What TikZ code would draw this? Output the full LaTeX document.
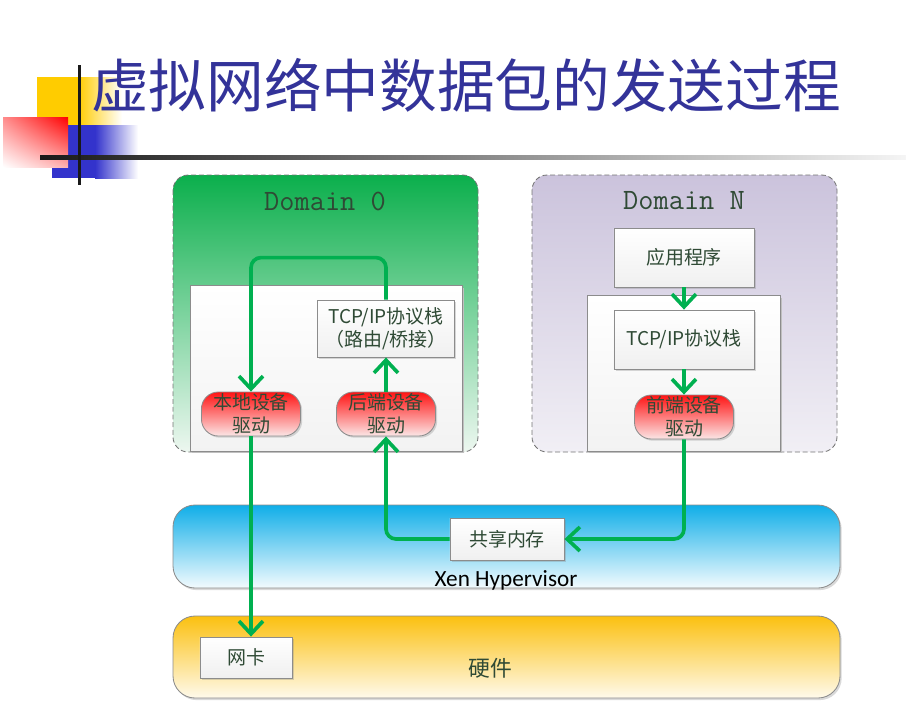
\documentclass[tikz,border=0pt]{standalone}
\usepackage{fontspec}
\newfontfamily\cjk{Noto Sans CJK SC}
\newfontfamily\calib{Carlito}
\usetikzlibrary{positioning,arrows.meta,calc,shadows,shadings}

\definecolor{titleblue}{HTML}{333399}
\definecolor{deckyellow}{HTML}{FFCC00}
\definecolor{deckblue}{HTML}{3333CC}
\definecolor{deckpink}{HTML}{FF8C8C}
\definecolor{deckpinkpale}{HTML}{FFB0B0}
\definecolor{flowgreen}{HTML}{00B050}
\definecolor{txtgreen}{HTML}{2F4A35}
\definecolor{domgreen}{HTML}{0BAF4C}
\definecolor{domgreenmid}{HTML}{62C58B}
\definecolor{domgreenbot}{HTML}{EDF7F0}
\definecolor{domlilac}{HTML}{CBC3DC}
\definecolor{domlilacbot}{HTML}{F1EFF5}
\definecolor{xenblue}{HTML}{10AEE8}
\definecolor{xenbluemid}{HTML}{7FCCEA}
\definecolor{hwyellow}{HTML}{FBC010}
\definecolor{hwyellowmid}{HTML}{F7D874}
\definecolor{drvred}{HTML}{FF1414}
\definecolor{drvredbot}{HTML}{FBE6E6}

\begin{document}
\begin{tikzpicture}[
  x=0.025cm, y=-0.025cm,
  box_plain/.style={draw=black!45, line width=0.6pt, top color=white, bottom color=black!6,
    inner sep=0pt, align=center, text=txtgreen, font=\cjk\fontsize{13.5}{16.5}\selectfont,
    drop shadow={shadow xshift=1.2pt, shadow yshift=-1.2pt, opacity=0.3}},
  box_drv/.style={box_plain, rounded corners=0.42cm, top color=drvred, bottom color=drvredbot,
    minimum width=2.475cm, minimum height=1.1cm},
  dom_frame/.style={draw=black!55, line width=0.6pt, dash pattern=on 3.5pt off 2pt, rounded corners=0.38cm},
  layer_band/.style={draw=black!45, line width=0.6pt, rounded corners=0.55cm,
    drop shadow={shadow xshift=1.2pt, shadow yshift=-1.5pt, opacity=0.3}},
  dom_label/.style={font=\ttfamily\fontsize{21}{24}\selectfont, text=txtgreen},
  flow/.style={draw=flowgreen, line width=2.6pt, rounded corners=0.25cm,
    -{Straight Barb[length=3.2mm,width=6mm]}}
]
\useasboundingbox (0,0) rectangle (906,712);

% --- Title decoration ---
\fill[deckyellow] (37,77) rectangle (78,125);
\shade[left color=deckyellow, right color=white] (78,77) rectangle (122,125);
\fill[deckblue] (52,125) rectangle (95,178);
\shade[left color=deckblue, right color=white] (95,125) rectangle (138,178);
\shade[upper right=red, upper left=deckpink, lower right=deckpinkpale, lower left=white]
  (3,117) rectangle (68,167);
\shade[left color=black!90, right color=black!4] (40,155) rectangle (906,159);
\fill[black!90] (77.5,65) rectangle (80.5,185);
\node[anchor=west, inner sep=0pt, font=\cjk\fontsize{41}{48}\selectfont, text=titleblue]
  (title) at (91,85) {虚拟网络中数据包的发送过程};

% --- Domain 0 ---
\shade[dom_frame, top color=domgreen, middle color=domgreenmid, bottom color=domgreenbot]
  (173,175) rectangle (478,452);
\fill[black!25] (192,288) rectangle (464,453);
\shade[draw=black!45, top color=white, bottom color=black!5] (190,285) rectangle (462,451);
\node[dom_label] (dom0) at (325,201) {Domain 0};
\node[box_plain, minimum width=3.425cm, minimum height=1.425cm] (tcp0) at (386,328.5)
  {TCP/IP协议栈\\（路由/桥接）};
\node[box_drv] (drv_local) at (251,414) {本地设备\\驱动};
\node[box_drv] (drv_back) at (386,414) {后端设备\\驱动};

% --- Domain N ---
\shade[dom_frame, top color=domlilac, bottom color=domlilacbot] (532,175) rectangle (837,452);
\fill[black!25] (589,298) rectangle (782,453);
\shade[draw=black!45, top color=white, bottom color=black!5] (587,295) rectangle (780,451);
\node[dom_label] (domN) at (684,201) {Domain N};
\node[box_plain, minimum width=3.5cm, minimum height=1.475cm] (app) at (684,257.5) {应用程序};
\node[box_plain, minimum width=3.5cm, minimum height=1.475cm] (tcpN) at (684,339.5) {TCP/IP协议栈};
\node[box_drv] (drv_front) at (684,417) {前端设备\\驱动};

% --- Xen Hypervisor and hardware ---
\shade[layer_band, top color=xenblue, middle color=xenbluemid, bottom color=white!95!xenblue]
  (173,505) rectangle (840,588);
\node[box_plain, minimum width=2.85cm, minimum height=1.05cm] (shm) at (507,539) {共享内存};
\node[font=\calib\fontsize{16.5}{19}\selectfont, text=black] (xen) at (506,580) {Xen Hypervisor};
\shade[layer_band, top color=hwyellow, middle color=hwyellowmid, bottom color=white!92!hwyellow]
  (173,616) rectangle (840,698);
\node[box_plain, minimum width=2.3cm, minimum height=1.025cm] (nic) at (246,657.5) {网卡};
\node[font=\cjk\fontsize{15.5}{18}\selectfont, text=txtgreen] (hw) at (490,668) {硬件};

% --- Packet flow ---
\draw[flow] (app.south) -- (tcpN.north);
\draw[flow] (tcpN.south) -- (drv_front.north);
\draw[flow] (drv_front.south) |- (shm.east);
\draw[flow] (shm.west) -| (drv_back.south);
\draw[flow] (drv_back.north) -- (tcp0.south);
\draw[flow] (tcp0.north) -- ++(0,-42) -| (drv_local.north);
\draw[flow] (drv_local.south) -- (drv_local.south |- nic.north);

\end{tikzpicture}
\end{document}
